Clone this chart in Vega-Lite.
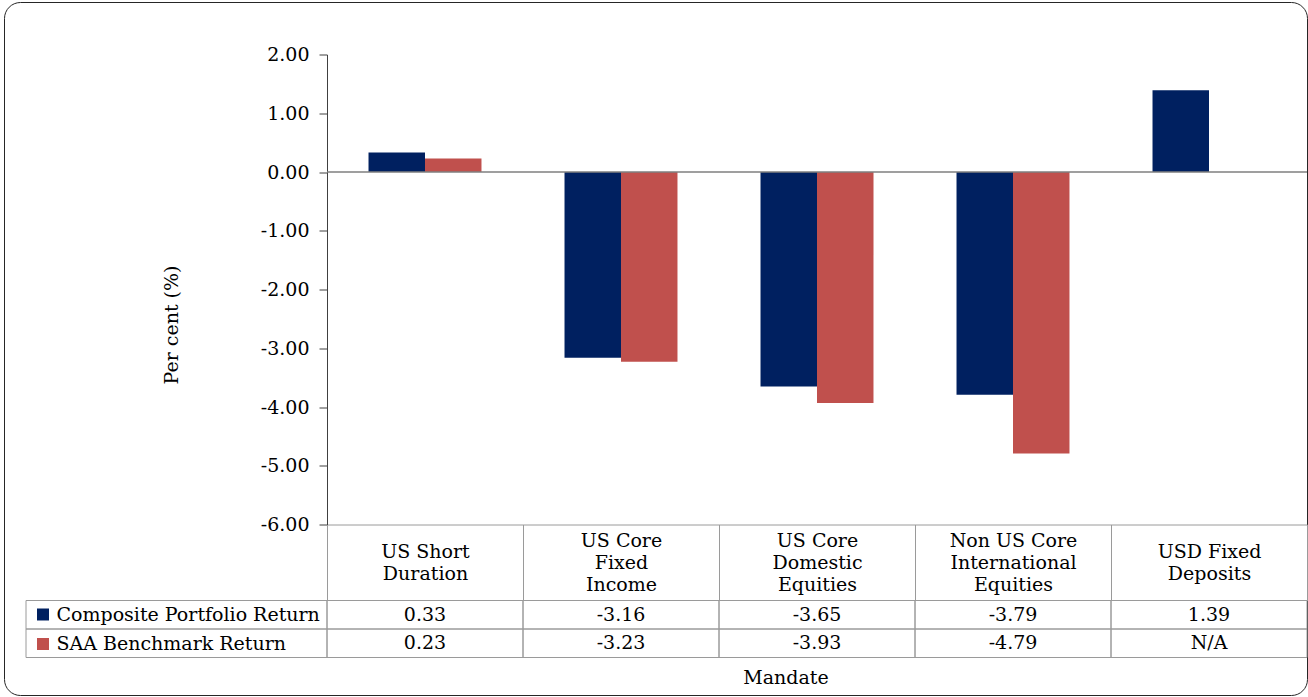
{
  "$schema": "https://vega.github.io/schema/vega-lite/v6.json",
  "background": "white",
  "padding": {"left": 3, "top": 1, "right": 0, "bottom": 1},
  "config": {
    "font": "DejaVu Serif",
    "view": {"stroke": null},
    "locale": {
      "number": {
        "decimal": ".",
        "thousands": ",",
        "grouping": [3],
        "currency": ["$", ""],
        "minus": "-"
      }
    },
    "axis": {
      "labelFont": "DejaVu Serif",
      "titleFont": "DejaVu Serif",
      "labelColor": "#000000",
      "titleColor": "#000000",
      "labelFontSize": 19,
      "titleFontSize": 19,
      "titleFontWeight": "normal"
    },
    "text": {"font": "DejaVu Serif", "fontSize": 19, "color": "#000000"}
  },
  "datasets": {
    "returns": [
      {"mandate": "US Short\nDuration", "series": "Composite Portfolio Return", "value": 0.33},
      {"mandate": "US Short\nDuration", "series": "SAA Benchmark Return", "value": 0.23},
      {"mandate": "US Core\nFixed\nIncome", "series": "Composite Portfolio Return", "value": -3.16},
      {"mandate": "US Core\nFixed\nIncome", "series": "SAA Benchmark Return", "value": -3.23},
      {"mandate": "US Core\nDomestic\nEquities", "series": "Composite Portfolio Return", "value": -3.65},
      {"mandate": "US Core\nDomestic\nEquities", "series": "SAA Benchmark Return", "value": -3.93},
      {"mandate": "Non US Core\nInternational\nEquities", "series": "Composite Portfolio Return", "value": -3.79},
      {"mandate": "Non US Core\nInternational\nEquities", "series": "SAA Benchmark Return", "value": -4.79},
      {"mandate": "USD Fixed\nDeposits", "series": "Composite Portfolio Return", "value": 1.39},
      {"mandate": "USD Fixed\nDeposits", "series": "SAA Benchmark Return", "value": null}
    ],
    "seriesList": [
      {"series": "Composite Portfolio Return"},
      {"series": "SAA Benchmark Return"}
    ]
  },
  "columns": 1,
  "spacing": -640.5,
  "bounds": "flush",
  "align": "none",
  "concat": [
    {
      "width": 1303,
      "height": 693,
      "view": {"stroke": "#262626", "strokeWidth": 1, "cornerRadius": 16, "fill": null},
      "data": {"values": []},
      "mark": "rect"
    },
    {
      "columns": 2,
      "spacing": 0,
      "bounds": "flush",
      "align": "each",
      "concat": [
        {
          "width": 22,
          "height": 1,
          "data": {"values": []},
          "mark": "rect"
        },
        {
          "columns": 2,
          "spacing": {"row": 76, "column": 0},
          "bounds": "flush",
          "align": "each",
          "resolve": {"scale": {"color": "independent"}, "legend": {"color": "independent"}},
          "concat": [
            {
              "width": 301,
              "height": 470,
              "data": {"values": []},
              "mark": "rect"
            },
            {
              "width": 980,
              "height": 470,
              "data": {"name": "returns"},
              "layer": [
                {
                  "mark": {"type": "bar"},
                  "encoding": {
                    "x": {
                      "field": "mandate",
                      "type": "nominal",
                      "sort": null,
                      "scale": {"paddingInner": 0, "paddingOuter": 0},
                      "axis": {
                        "orient": "bottom",
                        "labels": false,
                        "ticks": false,
                        "title": null,
                        "domain": true,
                        "domainColor": "#9a9a9a",
                        "domainWidth": 1,
                        "grid": false
                      }
                    },
                    "xOffset": {
                      "field": "series",
                      "type": "nominal",
                      "sort": null,
                      "scale": {"paddingInner": 0, "paddingOuter": 0.735}
                    },
                    "y": {
                      "field": "value",
                      "type": "quantitative",
                      "scale": {"domain": [-6, 2], "nice": false, "zero": false},
                      "axis": {
                        "values": [-6, -5, -4, -3, -2, -1, 0, 1, 2],
                        "format": ".2f",
                        "grid": false,
                        "tickSize": 8,
                        "tickColor": "#404040",
                        "domainColor": "#404040",
                        "labelPadding": 10,
                        "title": "Per cent (%)",
                        "titleX": -149.5,
                        "titleY": 270,
                        "titleBaseline": "alphabetic"
                      }
                    },
                    "color": {
                      "field": "series",
                      "type": "nominal",
                      "scale": {
                        "domain": ["Composite Portfolio Return", "SAA Benchmark Return"],
                        "range": ["#002060", "#C0504D"]
                      },
                      "legend": {
                        "orient": "none",
                        "legendX": -293.5,
                        "legendY": 550.5,
                        "title": null,
                        "direction": "vertical",
                        "symbolType": "square",
                        "symbolSize": 144,
                        "symbolStrokeWidth": 0,
                        "labelFont": "DejaVu Serif",
                        "labelFontSize": 19,
                        "labelColor": "#000000",
                        "labelLimit": 400,
                        "labelOffset": 4,
                        "rowPadding": 9.5,
                        "padding": 0
                      }
                    }
                  }
                },
                {
                  "data": {"values": [{}]},
                  "mark": {"type": "rule", "color": "#7f7f7f", "strokeWidth": 1.5},
                  "encoding": {"y": {"datum": 0}}
                }
              ]
            },
            {
              "width": 301,
              "height": 57,
              "data": {"name": "seriesList"},
              "mark": {"type": "rect", "filled": false, "stroke": "#9a9a9a", "strokeWidth": 1},
              "encoding": {
                "y": {
                  "field": "series",
                  "type": "nominal",
                  "sort": null,
                  "scale": {"paddingInner": 0, "paddingOuter": 0},
                  "axis": null
                }
              }
            },
            {
              "width": 980,
              "height": 57,
              "data": {"name": "returns"},
              "title": {
                "text": "Mandate",
                "orient": "bottom",
                "anchor": "middle",
                "offset": 11,
                "dx": -31,
                "font": "DejaVu Serif",
                "fontSize": 19,
                "fontWeight": "normal",
                "color": "#000000"
              },
              "encoding": {
                "x": {
                  "field": "mandate",
                  "type": "nominal",
                  "sort": null,
                  "scale": {"paddingInner": 0, "paddingOuter": 0},
                  "axis": {
                    "orient": "top",
                    "title": null,
                    "domain": false,
                    "ticks": true,
                    "tickBand": "extent",
                    "tickSize": 76,
                    "tickColor": "#9a9a9a",
                    "labelAngle": 0,
                    "labelLimit": 400,
                    "labelFont": "DejaVu Serif",
                    "labelExpr": "split(datum.label, '\\n')",
                    "labelBaseline": "middle",
                    "labelLineHeight": 22,
                    "labelPadding": {
                      "condition": {"test": "length(split(datum.value, '\\n')) > 2", "value": -16},
                      "value": -26.5
                    }
                  }
                },
                "y": {
                  "field": "series",
                  "type": "nominal",
                  "sort": null,
                  "scale": {"paddingInner": 0, "paddingOuter": 0},
                  "axis": null
                }
              },
              "layer": [
                {
                  "mark": {"type": "rect", "filled": false, "stroke": "#9a9a9a", "strokeWidth": 1}
                },
                {
                  "mark": {"type": "text", "baseline": "middle", "align": "center", "font": "DejaVu Serif", "fontSize": 19, "color": "#000000"},
                  "encoding": {
                    "text": {
                      "condition": {"test": "datum.value === null", "value": "N/A"},
                      "field": "value",
                      "type": "quantitative",
                      "format": ".2f"
                    }
                  }
                }
              ]
            }
          ]
        }
      ]
    }
  ]
}
